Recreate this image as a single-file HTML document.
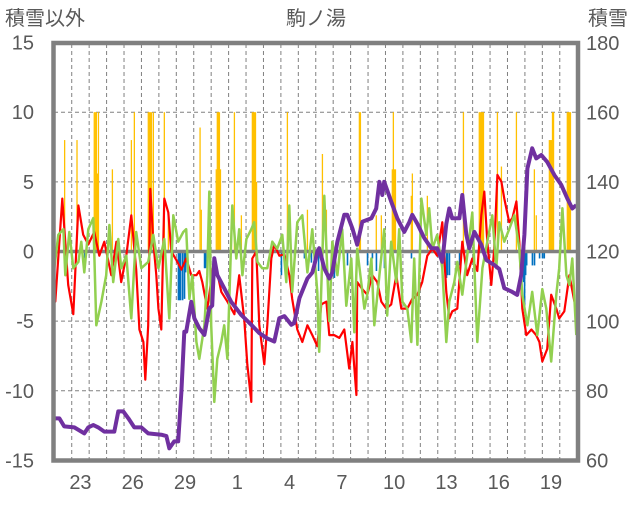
<!DOCTYPE html>
<html><head><meta charset="utf-8">
<style>
html,body{margin:0;padding:0;background:#fff;}
svg text{font-family:"Liberation Sans","Noto Sans CJK JP",sans-serif;fill:#595959;}
</style></head>
<body>
<svg id="chart" width="636" height="501" viewBox="0 0 636 501" xmlns="http://www.w3.org/2000/svg">
<text x="5" y="25" font-size="20">積雪以外</text>
<text x="316" y="25" font-size="20" text-anchor="middle">駒ノ湯</text>
<text x="588" y="25" font-size="20">積雪</text>
<g id="grid"></g>
<g id="bars"></g>
<g id="lines"></g>
<g id="axes"></g>
</svg>
<script>
const xTickLabels = ["23","26","29","1","4","7","10","13","16","19"];
const xTickDays = [1,4,7,10,13,16,19,22,25,28];
const leftTicks = [15,10,5,0,-5,-10,-15];
const rightTicks = [180,160,140,120,100,80,60];
const redSeries = [[0,-1.7],[0.06,-3.6],[0.46,3.8],[0.8,-2.4],[1.09,-4.5],[1.38,3.3],[1.66,1.2],[1.95,0.5],[2.29,1.4],[2.58,-0.3],[2.87,0.7],[3.27,-1.7],[3.56,0.7],[3.84,-2.2],[4.13,-0.3],[4.42,2.6],[4.7,-1.3],[4.88,-5.6],[5.11,-6.5],[5.22,-9.2],[5.39,-5.3],[5.51,4.5],[5.68,0.7],[5.85,-1.7],[5.97,-4.1],[6.14,-5.6],[6.31,3.8],[6.54,2.8],[6.71,0],[7.0,-0.6],[7.29,-1.3],[7.57,-0.5],[7.86,-1.7],[8.15,-1.7],[8.32,-1.4],[8.49,-2.2],[8.78,-4.1],[9.18,-0.5],[9.58,-2.9],[9.93,-3.6],[10.33,-4.5],[10.61,-1.7],[10.9,-4.9],[11.07,-8.1],[11.3,-10.8],[11.36,-0.5],[11.59,0],[11.76,-5.3],[12.05,-8.1],[12.22,-5.3],[12.45,-0.5],[12.62,0.5],[12.91,-0.3],[13.2,-0.2],[13.48,-1.7],[13.65,-3.4],[13.94,-5.6],[14.23,-6.5],[14.52,-5.3],[14.8,-6],[15.09,-6.8],[15.32,-3.8],[15.61,-3.6],[15.78,-6],[16.06,-6],[16.35,-6.2],[16.64,-5.6],[16.92,-8.4],[17.1,-6.5],[17.33,-10.3],[17.38,-2.2],[17.67,-2.7],[17.96,-3.1],[18.24,-1.7],[18.53,-2.2],[18.76,-3.6],[19.05,-4.1],[19.33,-3.8],[19.62,-1.7],[19.91,-4.1],[20.25,-4.1],[20.54,-3.4],[20.83,-3.1],[21.11,-2.2],[21.4,-0.3],[21.69,0.2],[21.97,-0.3],[22.26,2.1],[22.49,-2.9],[22.66,-4.8],[22.83,-4.3],[23.12,-4.1],[23.41,0.7],[23.69,-1.7],[23.98,-0.5],[24.27,-1.4],[24.5,2.6],[24.67,4.3],[24.84,0.7],[25.07,-2.4],[25.24,0.2],[25.42,5.5],[25.65,5.0],[25.82,3.8],[26.1,2.1],[26.28,2.4],[26.51,3.6],[26.68,0.7],[26.85,-4.1],[27.08,-6],[27.37,-5.6],[27.65,-6],[27.83,-6.5],[28.0,-7.9],[28.28,-7.0],[28.51,-3.1],[28.8,-4.1],[28.97,-4.8],[29.26,-4.3],[29.55,-1.7],[29.84,-3.6]];
const greenSeries = [[0,-1.2],[0.23,1.2],[0.52,1.6],[0.63,-1.7],[0.86,1.4],[1.09,-1.2],[1.38,-0.75],[1.55,0.7],[1.72,-1.5],[1.95,1.6],[2.24,2.4],[2.41,-5.3],[2.7,-3.6],[2.98,-1.7],[3.16,1.9],[3.38,-2.2],[3.67,0.9],[3.84,-1.2],[4.13,-0.3],[4.42,-4.8],[4.7,1.4],[4.99,-1.2],[5.39,-0.75],[5.68,1.2],[5.97,-1.2],[6.31,0.9],[6.6,-4.8],[6.83,2.6],[7.11,0.7],[7.4,1.4],[7.57,1.6],[7.75,-3.4],[7.92,-1.7],[8.15,-6.5],[8.32,-7.7],[8.61,-5.3],[8.78,-1.7],[8.89,4.3],[9.0,-5.3],[9.18,-10.8],[9.35,-7.7],[9.58,-6.5],[9.75,-5.3],[9.93,-7.7],[10.21,3.3],[10.44,-0.5],[10.61,1.6],[10.79,-1.7],[11.02,0.9],[11.3,1.6],[11.47,2.1],[11.65,-0.75],[11.93,-1.2],[12.22,-1.2],[12.51,0.7],[12.79,0.2],[13.08,1.2],[13.31,-2.2],[13.48,3.3],[13.65,-2.9],[13.94,2.1],[14.23,2.6],[14.52,-1.5],[14.8,1.6],[15.09,-2.9],[15.2,-7.2],[15.49,4.0],[15.78,-5.0],[15.95,0.7],[16.24,-1.7],[16.52,1.6],[16.75,-3.9],[17.04,-0.5],[17.21,-5.8],[17.38,0.2],[17.61,-2.2],[17.79,-4.1],[17.96,-3.1],[18.19,-0.5],[18.36,-5.3],[18.65,-1.7],[18.93,1.6],[19.1,-4.6],[19.33,0.7],[19.62,-2.2],[19.79,1.6],[19.97,-3.6],[20.25,-4.1],[20.48,-6.5],[20.65,-0.5],[20.83,-6.7],[21.06,3.8],[21.34,1.2],[21.51,3.1],[21.69,0.2],[21.97,1.2],[22.26,-1.2],[22.49,-6.5],[22.66,-3.6],[22.95,-2.2],[23.12,-0.75],[23.41,-3.1],[23.69,-0.3],[23.98,2.8],[24.27,-6.5],[24.56,-1.2],[24.84,0.7],[25.13,2.6],[25.36,-1.2],[25.53,2.1],[25.82,0.7],[26.1,1.6],[26.39,2.6],[26.68,0.2],[26.85,-3.1],[27.14,-5.3],[27.42,-2.9],[27.71,-6.0],[28.0,-2.7],[28.23,-4.1],[28.51,-7.9],[28.8,-3.1],[28.97,-1.2],[29.15,3.1],[29.38,-1.7],[29.55,-2.4],[29.72,-0.5],[29.95,-6.0]];
const snowSeries = [[0,72.1],[0.29,72.1],[0.57,69.8],[1.15,69.5],[1.72,67.8],[1.95,69.5],[2.24,70.2],[2.52,69.5],[2.87,68.3],[3.44,68.3],[3.67,74.1],[3.96,74.1],[4.25,72.1],[4.59,69.5],[4.99,69.5],[5.39,67.8],[6.14,67.4],[6.43,67.0],[6.6,63.5],[6.88,65.5],[7.11,65.5],[7.29,79.8],[7.46,97],[7.57,97],[7.86,105.6],[8.03,100.9],[8.32,98],[8.61,96.1],[8.89,103.7],[9.06,104.5],[9.18,118.1],[9.35,113.3],[9.75,109.5],[10.15,105.6],[10.73,101.8],[11.3,99],[11.76,96.6],[12.22,95.1],[12.62,94.2],[12.91,100.9],[13.2,101.5],[13.6,99],[13.77,99.5],[14.06,106.6],[14.52,112.3],[14.8,114],[14.92,116.2],[15.09,120],[15.2,121],[15.49,115.2],[15.78,112.3],[15.95,114],[16.24,122.9],[16.64,130.6],[16.81,130.6],[17.1,126.7],[17.38,122],[17.67,128.6],[18.19,129.6],[18.47,132.4],[18.65,140.1],[18.82,136.3],[18.93,140.1],[19.33,134.4],[19.68,129.6],[20.08,125.7],[20.37,128.5],[20.54,130.6],[20.83,128],[21.23,123.9],[21.63,121],[21.97,121],[22.26,117.1],[22.49,128],[22.66,132.4],[22.83,129.6],[23.24,129.6],[23.41,136.3],[23.64,124.9],[23.81,121],[24.1,125.7],[24.5,122],[24.79,117.6],[25.24,116.2],[25.53,115],[25.82,109.5],[26.22,108.6],[26.56,107.6],[26.79,113.3],[26.97,124.9],[27.14,143.9],[27.42,149.7],[27.65,146.8],[27.94,147.8],[28.28,145.8],[28.69,142],[29.09,139.2],[29.43,135.3],[29.72,132.4],[29.95,133.4]];
const precipBars = [[0.59,8],[1.3,8],[2.29,10],[2.35,10],[2.41,10],[2.47,5.6],[2.53,10],[3.33,5.9],[4.42,8],[4.59,10],[5.39,10],[5.45,10],[5.51,10],[5.57,10],[5.68,10],[6.31,10],[6.54,2.6],[8.36,8.9],[8.43,3],[9.29,5.9],[9.35,10],[9.41,10],[9.47,10],[9.53,5.9],[10.33,10],[10.73,2.6],[11.36,10],[11.42,10],[11.48,10],[11.54,10],[11.6,5],[13.37,10],[14.52,3],[15.38,7],[15.61,3],[17.5,10],[17.56,10],[18.47,2.6],[18.76,2.6],[19.39,5.9],[19.45,10],[19.51,5.9],[19.57,5.9],[20.48,4],[20.54,5.6],[21.4,4],[23.47,10],[24.38,10],[24.44,10],[24.5,10],[24.56,10],[24.62,10],[25.42,10],[25.65,6.1],[26.51,10],[27.54,5.9],[27.65,2.6],[28.4,8],[28.46,8],[28.52,8],[28.58,10],[28.64,10],[29.43,10],[29.49,10],[29.55,10],[29.61,10]];
const negBars = [[1.74,-0.5],[7.11,-3.5],[7.17,-3.5],[7.23,-3.5],[7.35,-3.5],[7.46,-3.4],[7.52,-1.5],[8.61,-1.2],[8.67,-1.2],[13.02,-1.7],[13.77,-0.5],[14.34,-0.5],[14.74,-0.8],[15.15,-1.4],[16.06,-1.9],[16.35,-0.5],[16.81,-1.0],[17.38,-0.5],[17.96,-1.0],[18.24,-0.5],[18.47,-1.4],[18.93,-1.2],[20.48,-0.5],[22.26,-1.9],[22.49,-1.9],[22.55,-1.7],[22.66,-1.7],[23.24,-1.0],[26.85,-1.7],[26.91,-2.2],[26.97,-3.9],[27.03,-1.7],[27.09,-1.0],[27.42,-1.0],[27.54,-1.0],[27.83,-0.5],[28.0,-0.5],[28.1,-0.5]];

const NS="http://www.w3.org/2000/svg";
const X0=54.3, DAY=17.43, NDAYS=30;
function xs(t){return X0+t*DAY;}
function yl(v){return 251.5-v*13.93;}
function yr(v){return 460.5-(v-60)*3.48;}
function mk(tag,attrs,parent){const e=document.createElementNS(NS,tag);for(const k in attrs)e.setAttribute(k,attrs[k]);parent.appendChild(e);return e;}
const grid=document.getElementById('grid'),bars=document.getElementById('bars'),lines=document.getElementById('lines'),axes=document.getElementById('axes');

for(let d=1;d<NDAYS;d++){
  const l=mk('line',{x1:xs(d),x2:xs(d),y1:44,y2:460,stroke:'#808080','stroke-width':1,'stroke-dasharray':'4,3'},grid);
  
  
}
leftTicks.forEach(v=>{
  if(v!==0 && Math.abs(v)!==15){
    const l=mk('line',{x1:54,x2:577,y1:yl(v),y2:yl(v),stroke:'#808080','stroke-width':1,'stroke-dasharray':'4,3'},grid);
    
    
  }
  const t=mk('text',{x:34,y:yl(v)+7,'font-size':20,'text-anchor':'end'},axes);
  t.textContent=v;
  
  
});
rightTicks.forEach(v=>{
  const t=mk('text',{x:586,y:yr(v)+7,'font-size':20},axes);
  t.textContent=v;
  
  
});
xTickLabels.forEach((s,i)=>{
  const t=mk('text',{x:xs(xTickDays[i]+0.5),y:489,'font-size':20,'text-anchor':'middle'},axes);
  t.textContent=s;
  
  
});
precipBars.forEach(([t,v])=>{
  const vv=Math.min(v,10);
  const r=mk('rect',{x:xs(t)-0.6,y:yl(vv),width:1.3,height:yl(0)-yl(vv),fill:'#FFC000'},bars);
  
  
});
negBars.forEach(([t,v])=>{
  const r=mk('rect',{x:xs(t)-0.6,y:yl(0),width:1.6,height:yl(v)-yl(0),fill:'#0070C0'},bars);
  
  
});
const zl=mk('line',{x1:54,x2:577,y1:yl(0),y2:yl(0),stroke:'#808080','stroke-width':3.5},bars);



function poly(data,yf,color,w,name){
  const p=mk('polyline',{points:data.map(([t,v])=>xs(t).toFixed(1)+','+yf(v).toFixed(1)).join(' '),fill:'none',stroke:color,'stroke-width':w,'stroke-linejoin':'round'},lines);
  
  
}
poly(redSeries,yl,'#FF0000',2.2,'red-series-line');
poly(greenSeries,yl,'#92D050',2.5,'green-series-line');
poly(snowSeries,yr,'#7030A0',4,'snow-depth-line');

const fr=mk('rect',{x:53.5,y:43,width:524.5,height:417.5,fill:'none',stroke:'#808080','stroke-width':4.5},axes);


</script>
</body></html>
